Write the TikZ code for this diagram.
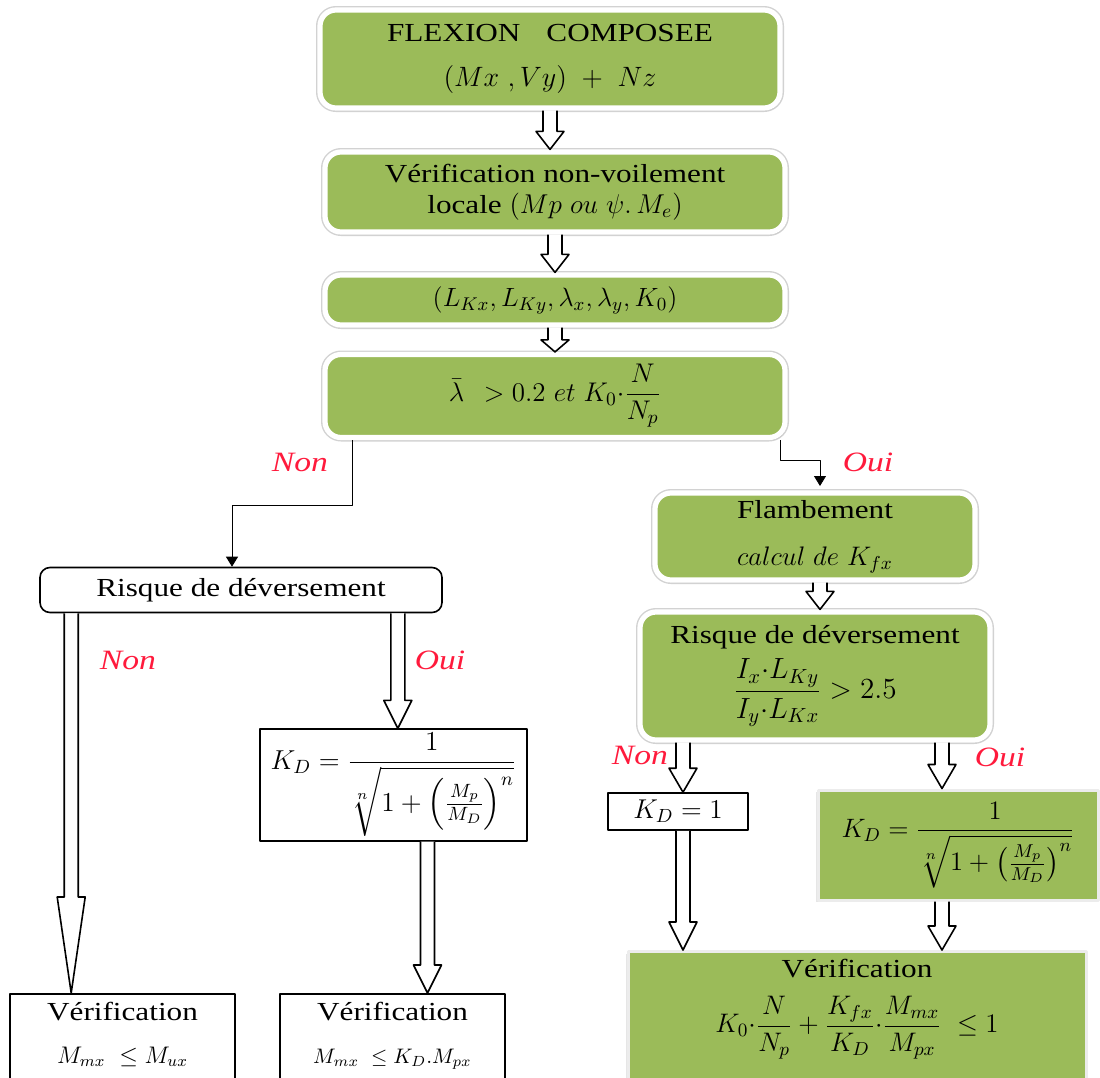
\RequirePackage{fix-cm}
\documentclass[tikz,border=0pt]{standalone}
\usepackage{amsmath}
\usepackage{fontspec}
\setmainfont[FakeStretch=1.2]{Liberation Serif}
\usetikzlibrary{arrows.meta,calc,shadows}
\definecolor{boxgreen}{HTML}{9BBB59}
\definecolor{labred}{HTML}{FF1A3C}
% fleche creuse verticale : [longueur de tete]{depart}{arrivee}
\newcommand{\harrow}[3][9pt]{%
  \draw[fill=white,line width=.8pt] let \p1=#2, \p2=#3 in
    (\x1-3.5pt,\y1) -- (\x1-3.5pt,\y2+#1) -- (\x1-7pt,\y2+#1) -- (\x1,\y2)
    -- (\x1+7pt,\y2+#1) -- (\x1+3.5pt,\y2+#1) -- (\x1+3.5pt,\y1);}
\begin{document}
\begin{tikzpicture}[x=.5pt,y=-.5pt,>={Triangle[length=5pt,width=6pt]},
	font=\fontsize{13}{15.6}\selectfont, line join=round,
	greenbox/.style={rounded corners=8pt, fill=boxgreen, draw=white, line width=2.6pt,
		preaction={draw=gray!35, line width=4pt},
		drop shadow={shadow xshift=.8pt, shadow yshift=-1.2pt, opacity=.3}, align=center, inner sep=2pt},
	flatgreen/.style={fill=boxgreen, draw=gray!15, line width=1.5pt,
		drop shadow={shadow xshift=-1pt, shadow yshift=-1pt, opacity=.2}, align=center, inner sep=2pt},
	whitebox/.style={draw, line width=.8pt, fill=white, align=center, inner sep=2pt},
	answer/.style={text=labred, font=\fontsize{14}{16}\selectfont\itshape}]
	\useasboundingbox (0,0) rectangle (1100,1078);
	\clip (0,0) rectangle (1100,1078);
	% colonne centrale
	\node[greenbox, minimum width=230pt, minimum height=49pt] (flex) at (550,59)
		{FLEXION\hspace{1em}COMPOSEE\\[7pt] \fontsize{14}{17}\selectfont$(Mx\ ,Vy)\ +\ Nz$};
	\node[greenbox, minimum width=230pt, minimum height=40pt] (voil) at (555,192)
		{V\'erification non-voilement\\ locale {\fontsize{13.6}{16}\selectfont$(Mp\ ou\ \psi.\,M_e)$}};
	\node[greenbox, minimum width=230pt, minimum height=25pt] (param) at (555,300)
		{\fontsize{13.2}{16}\selectfont$(L_{Kx}, L_{Ky}, \lambda_x, \lambda_y, K_0)$};
	\node[greenbox, minimum width=230pt, minimum height=41.5pt] (lamb) at (555,396)
		{\fontsize{13.5}{16}\selectfont$\bar{\lambda}\;\,>0.2\ et\ K_0{\cdot}\dfrac{N}{N_p}$};
	\harrow{(flex.south)}{(voil.north)}
	\harrow{(voil.south)}{(param.north)}
	\harrow[6pt]{(param.south)}{(lamb.north)}
	% branche Non
	\node[whitebox, rounded corners=5pt, minimum width=201pt, minimum height=22.5pt] (risqA) at (241,590)
		{Risque de d\'eversement};
	\node[whitebox, minimum width=133.5pt, minimum height=55pt] (kdA) at (393.5,785)
		{\fontsize{13.7}{16}\selectfont$K_D=\dfrac{1}{\sqrt[n]{1+\left(\frac{M_p}{M_D}\right)^{n}}}$};
	\node[whitebox, anchor=north, minimum width=112.5pt, inner sep=4pt] (verA) at (122.5,993)
		{V\'erification\\[6pt] {\fontsize{12}{15}\selectfont$M_{mx}\ \le M_{ux}$}\\ \rule{0pt}{20pt}};
	\node[whitebox, anchor=north, minimum width=112.5pt, inner sep=4pt] (verB) at (392.5,993)
		{V\'erification\\[6pt] {\fontsize{10.5}{15}\selectfont$M_{mx}\ \le K_D.M_{px}$}\\ \rule{0pt}{20pt}};
	\coordinate (nonA) at (352,505);
	\draw[->] (lamb.south -| nonA) -- (nonA) -- (232,505) -- (risqA.north -| 232,505);
	\node[answer] at (300,462) {Non};
	\harrow[48pt]{($(risqA.south west)+(32,0)$)}{(verA.north)}
	\harrow[14pt]{($(risqA.south east)+(-45,0)$)}{(kdA.north)}
	\harrow[14pt]{($(kdA.south)+(34,0)$)}{(verB.north)}
	\node[answer] at (128,660) {Non};
	\node[answer] at (440,660) {Oui};
	% branche Oui
	\node[greenbox, minimum width=160pt, minimum height=43.5pt] (flamb) at (815,536.5)
		{Flambement\\[8pt] {\fontsize{13.4}{17}\selectfont$calcul\ de\ K_{fx}$}};
	\node[greenbox, minimum width=175pt, minimum height=64pt] (risqB) at (815,676)
		{Risque de d\'eversement\\[4pt] {\fontsize{14.6}{18}\selectfont$\dfrac{I_x{\cdot}L_{Ky}}{I_y{\cdot}L_{Kx}}>2.5$}};
	\node[whitebox, minimum width=70pt, minimum height=18.5pt] (kd1) at (678,811.5)
		{\fontsize{13.6}{17}\selectfont$K_D=1$};
	\node[flatgreen, minimum width=140pt, minimum height=55pt] (kdB) at (958,845)
		{\fontsize{13.3}{16}\selectfont$K_D=\dfrac{1}{\sqrt[n]{1+\left(\frac{M_p}{M_D}\right)^{n}}}$};
	\node[flatgreen, anchor=north, minimum width=229pt, inner sep=4pt] (verC) at (857,950)
		{V\'erification\\[8pt] {\fontsize{13.4}{16}\selectfont$K_0{\cdot}\dfrac{N}{N_p}+\dfrac{K_{fx}}{K_D}{\cdot}\dfrac{M_{mx}}{M_{px}}\ \le 1$}\\ \rule{0pt}{25pt}};
	\coordinate (ouiA) at (780,460);
	\draw[->] (lamb.south -| ouiA) -- (ouiA) -- (820,460) -- (820,486);
	\node[answer] at (868,462) {Oui};
	\harrow{($(flamb.south)+(5,0)$)}{(risqB.north)}
	\harrow[12pt]{($(risqB.south)+(-132,0)$)}{(kd1.north)}
	\harrow[12pt]{($(risqB.south)+(127,0)$)}{(kdB.north)}
	\harrow[14pt]{($(kd1.south)+(5,0)$)}{(verC.north)}
	\harrow[12pt]{($(kdB.south)+(-16,0)$)}{(verC.north)}
	\node[answer] at (640,755) {Non};
	\node[answer] at (1000,757) {Oui};
\end{tikzpicture}
\end{document}
